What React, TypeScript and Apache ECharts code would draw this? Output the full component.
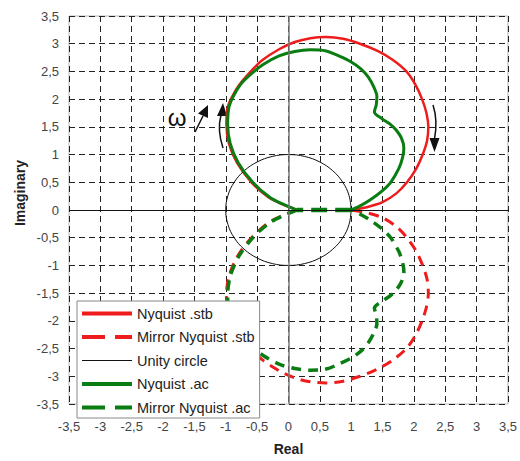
import React, { useEffect, useRef } from "react";
import * as echarts from "echarts";

const xTicks = { min: -3.5, max: 3.5, step: 0.5 };
const yTicks = { min: -3.5, max: 3.5, step: 0.5 };

const seriesNames = [
  "Nyquist .stb",
  "Mirror Nyquist .stb",
  "Unity circle",
  "Nyquist .ac",
  "Mirror Nyquist .ac",
];

// Nyquist .stb, ω increasing along the list
const nyquistStb: number[][] = [
  [0.13, 0], [-0.09, 0.1], [-0.32, 0.23], [-0.59, 0.5], [-0.82, 0.85], [-0.95, 1.2],
  [-0.99, 1.55], [-0.97, 1.85], [-0.91, 2.02], [-0.79, 2.25], [-0.62, 2.48], [-0.42, 2.7],
  [-0.15, 2.9], [0.1, 3.03], [0.35, 3.1], [0.6, 3.12], [0.87, 3.09], [1.14, 3.0],
  [1.42, 2.87], [1.66, 2.71], [1.88, 2.5], [2.03, 2.25], [2.13, 2.0], [2.2, 1.75],
  [2.23, 1.5], [2.21, 1.25], [2.14, 1.0], [2.04, 0.75], [1.89, 0.5], [1.72, 0.3],
  [1.5, 0.14], [1.25, 0.05], [1.0, 0],
];

// Nyquist .ac
const nyquistAc: number[][] = [
  [0.13, 0], [-0.08, 0.1], [-0.3, 0.23], [-0.57, 0.5], [-0.8, 0.85], [-0.93, 1.2],
  [-0.97, 1.55], [-0.95, 1.85], [-0.88, 2.05], [-0.76, 2.27], [-0.6, 2.45], [-0.41, 2.62],
  [-0.15, 2.78], [0.1, 2.86], [0.35, 2.89], [0.6, 2.87], [0.82, 2.77], [1.0, 2.67],
  [1.15, 2.55], [1.27, 2.4], [1.36, 2.22], [1.41, 2.05], [1.4, 1.9], [1.37, 1.77],
  [1.5, 1.64], [1.62, 1.55], [1.72, 1.44], [1.8, 1.3], [1.84, 1.12], [1.82, 0.95],
  [1.76, 0.75], [1.63, 0.5], [1.48, 0.33], [1.3, 0.18], [1.12, 0.06], [1.0, 0],
];

// segment of the mirrored .ac curve lying on the real axis
const mirrorAcAxis: number[][] = [[1.0, 0], [0.13, 0]];

// Unity circle, every 15°
const unityCircle: number[][] = [
  [1, 0], [0.966, 0.259], [0.866, 0.5], [0.707, 0.707], [0.5, 0.866], [0.259, 0.966],
  [0, 1], [-0.259, 0.966], [-0.5, 0.866], [-0.707, 0.707], [-0.866, 0.5], [-0.966, 0.259],
  [-1, 0], [-0.966, -0.259], [-0.866, -0.5], [-0.707, -0.707], [-0.5, -0.866], [-0.259, -0.966],
  [0, -1], [0.259, -0.966], [0.5, -0.866], [0.707, -0.707], [0.866, -0.5], [0.966, -0.259],
  [1, 0],
];

const mirror = (pts: number[][]) => pts.map(([x, y]) => [x, -y]);

const RED = "#ee1c1c";
const GREEN = "#0a7d12";
const FONT = "Arial, 'Liberation Sans', sans-serif";

const fmt = (v: number) => String(v).replace(".", ",");

export default function App() {
  const ref = useRef<HTMLDivElement>(null);
  useEffect(() => {
    if (!ref.current) return;
    const chart = echarts.init(ref.current, undefined, { renderer: "svg" });
    const noSym = { opacity: 0 };
    const option: any = {
      animation: false,
      backgroundColor: "#ffffff",
      grid: {
        left: 69,
        top: 16,
        right: 11,
        bottom: 55,
        show: true,
        borderColor: "#b8b8b8",
        borderWidth: 1,
        backgroundColor: "transparent",
      },
      xAxis: {
        type: "value",
        min: xTicks.min,
        max: xTicks.max,
        interval: xTicks.step,
        name: "Real",
        nameLocation: "middle",
        nameGap: 38,
        nameTextStyle: { fontFamily: FONT, fontWeight: "bold", fontSize: 14, color: "#222" },
        axisLine: { show: false },
        axisTick: { show: false },
        axisLabel: { formatter: fmt, fontFamily: FONT, fontSize: 13, color: "#444", margin: 16 },
        splitLine: { show: true, lineStyle: { color: "#222", type: [6, 4], width: 1 } },
      },
      yAxis: {
        type: "value",
        min: yTicks.min,
        max: yTicks.max,
        interval: yTicks.step,
        axisLine: { show: false },
        axisTick: { show: false },
        axisLabel: { formatter: fmt, fontFamily: FONT, fontSize: 13, color: "#444", margin: 10 },
        splitLine: { show: true, lineStyle: { color: "#222", type: [6, 4], width: 1 } },
      },
      legend: {
        orient: "vertical",
        left: 77,
        top: 301,
        z: 10,
        backgroundColor: "#ffffff",
        borderColor: "#888888",
        borderWidth: 1,
        borderRadius: 0,
        padding: [5, 5, 3, 3],
        itemWidth: 50,
        itemHeight: 14,
        itemGap: 8.5,
        textStyle: { fontFamily: FONT, fontSize: 14.5, color: "#222" },
        data: [
          { name: seriesNames[0], itemStyle: noSym, lineStyle: { width: 4, color: RED, type: "solid" } },
          { name: seriesNames[1], itemStyle: noSym, lineStyle: { width: 4, color: RED, type: [23, 10] } },
          { name: seriesNames[2], itemStyle: noSym, lineStyle: { width: 1, color: "#111", type: "solid" } },
          { name: seriesNames[3], itemStyle: noSym, lineStyle: { width: 4, color: GREEN, type: "solid" } },
          { name: seriesNames[4], itemStyle: noSym, lineStyle: { width: 4, color: GREEN, type: [23, 10] } },
        ],
      },
      series: [
        {
          name: "axes",
          type: "line",
          data: [[0, 0]],
          symbol: "none",
          lineStyle: { opacity: 0 },
          silent: true,
          markLine: {
            silent: true,
            symbol: "none",
            label: { show: false },
            data: [
              { xAxis: 0, lineStyle: { color: "#777", width: 1.5, type: "solid" } },
              { yAxis: 0, lineStyle: { color: "#111", width: 1, type: "solid" } },
            ],
          },
        },
        {
          name: seriesNames[0],
          type: "line",
          data: nyquistStb,
          smooth: 0.3,
          symbol: "none",
          lineStyle: { color: RED, width: 2.5 },
          itemStyle: { color: RED },
        },
        {
          name: seriesNames[1],
          type: "line",
          data: mirror(nyquistStb),
          smooth: 0.3,
          symbol: "none",
          lineStyle: { color: RED, width: 3, type: [10, 7] },
          itemStyle: { color: RED },
        },
        {
          name: seriesNames[2],
          type: "line",
          data: unityCircle,
          smooth: 0.4,
          symbol: "none",
          lineStyle: { color: "#111", width: 1 },
          itemStyle: { color: "#111" },
        },
        {
          name: seriesNames[3],
          type: "line",
          data: nyquistAc,
          smooth: 0.3,
          symbol: "none",
          lineStyle: { color: GREEN, width: 3 },
          itemStyle: { color: GREEN },
        },
        {
          name: seriesNames[4],
          type: "line",
          data: mirror(nyquistAc),
          smooth: 0.3,
          symbol: "none",
          lineStyle: { color: GREEN, width: 3.5, type: [10, 7] },
          itemStyle: { color: GREEN },
        },
        {
          name: seriesNames[4],
          type: "line",
          data: mirrorAcAxis,
          symbol: "none",
          lineStyle: { color: GREEN, width: 4.5, type: [16, 8] },
          itemStyle: { color: GREEN },
        },
      ],
      graphic: [
        {
          type: "text",
          x: 20,
          y: 193,
          rotation: Math.PI / 2,
          style: {
            text: "Imaginary",
            fontFamily: FONT,
            fontWeight: "bold",
            fontSize: 14,
            fill: "#222",
            align: "center",
            verticalAlign: "middle",
          },
        },
        {
          type: "text",
          x: 177,
          y: 117,
          style: {
            text: "ω",
            fontFamily: FONT,
            fontSize: 24,
            fill: "#111",
            align: "center",
            verticalAlign: "middle",
          },
        },
        // straight arrow
        { type: "line", shape: { x1: 195, y1: 132, x2: 203, y2: 116 }, style: { stroke: "#111", lineWidth: 1.5 } },
        { type: "polygon", shape: { points: [[208, 105], [208, 118], [198, 113.5]] }, style: { fill: "#111" } },
        // curved arrow left
        {
          type: "bezierCurve",
          shape: { x1: 223, y1: 148, cpx1: 217, cpy1: 130, x2: 221, y2: 115 },
          style: { stroke: "#111", lineWidth: 1.5, fill: "none" },
        },
        { type: "polygon", shape: { points: [[223, 103], [227, 116], [217, 116]] }, style: { fill: "#111" } },
        // curved arrow right
        {
          type: "bezierCurve",
          shape: { x1: 433, y1: 105, cpx1: 438, cpy1: 120, x2: 434.5, y2: 139 },
          style: { stroke: "#111", lineWidth: 1.5, fill: "none" },
        },
        { type: "polygon", shape: { points: [[434.5, 152], [429.5, 138], [439.5, 138]] }, style: { fill: "#111" } },
      ],
    };
    chart.setOption(option);
    return () => chart.dispose();
  }, []);
  return (
    <div
      ref={ref}
      style={{ position: "absolute", left: 0, top: 0, width: 520, height: 461, background: "#fff" }}
    />
  );
}
